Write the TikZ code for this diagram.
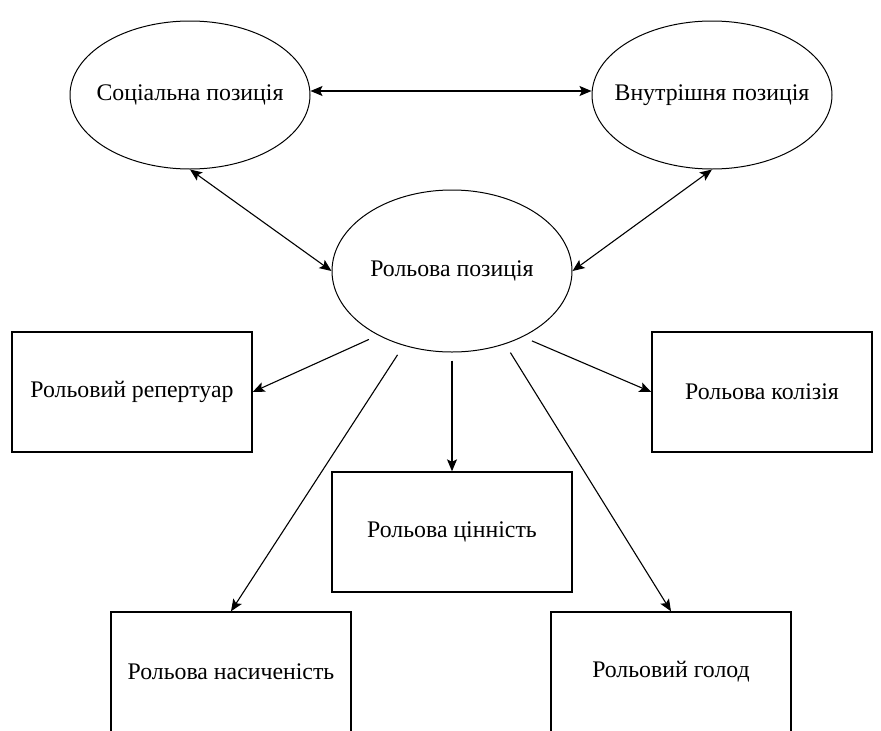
\documentclass[tikz,border=0pt]{standalone}
\usepackage{fontspec}
\setmainfont{Liberation Serif}
\usetikzlibrary{shapes.geometric,arrows.meta}

\begin{document}
\begin{tikzpicture}[x=1pt, y=-1pt,
    ell/.style={draw, ellipse, line width=1pt, inner xsep=-20pt, inner ysep=0pt,
                minimum width=240pt, minimum height=148pt},
    box/.style={draw, rectangle, line width=1.4pt, inner sep=0pt,
                minimum width=240pt, minimum height=120pt},
    arr/.style={line width=1.1pt, -{Stealth[length=12pt,width=10pt,inset=2.5pt]}},
    both/.style={line width=1.1pt, {Stealth[length=12pt,width=10pt,inset=2.5pt]}-{Stealth[length=12pt,width=10pt,inset=2.5pt]}},
    font=\fontsize{23.8}{28}\selectfont]

    \useasboundingbox (0,0) rectangle (881,731);
    \clip (0,0) rectangle (881,731);

    % ovals
    \node[ell] (soc) at (190,95) {Соціальна позиція};
    \node[ell] (inn) at (712,95) {Внутрішня позиція};
    \node[ell, minimum height=162pt] (role) at (452,271) {Рольова позиція};

    % boxes
    \node[box] (rep) at (132,392) {Рольовий репертуар};
    \node[box, minimum width=220pt] (col) at (762,392) {Рольова колізія};
    \node[box] (val) at (452,532) {Рольова цінність};
    \node[box] (sat) at (231,672) {Рольова насиченість};
    \node[box] (hun) at (671,672) {Рольовий голод};

    % two-way links
    \draw[both] ([yshift=4pt]soc.east) -- ([yshift=4pt]inn.west);
    \draw[both] (soc.south) -- (role.west);
    \draw[both] (inn.south) -- (role.east);

    % role links
    \draw[arr, shorten <=10pt] (role.-139) -- (rep.east);
    \draw[arr, shorten <=10pt] (role.-43) -- (col.west);
    \draw[arr, shorten <=8pt] (role.south) -- (val.north);
    \draw[arr, shorten <=11pt] (role.-123) -- (sat.north);
    \draw[arr, shorten <=10pt] (role.-54) -- (hun.north);

\end{tikzpicture}
\end{document}
